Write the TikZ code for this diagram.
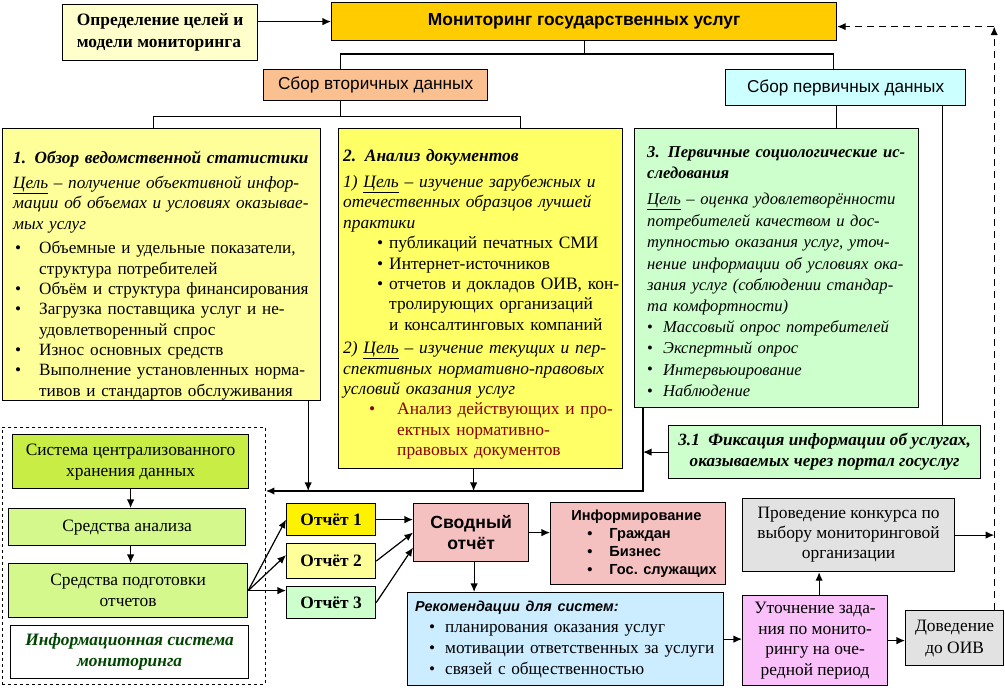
\documentclass[tikz,border=0pt]{standalone}
\usepackage{fontspec}
\setmainfont{Liberation Serif}
\setsansfont{Liberation Sans}
\usetikzlibrary{arrows.meta,positioning}
\usepackage{xcolor}
\definecolor{goldbox}{RGB}{255,204,0}
\definecolor{creamy}{RGB}{255,255,204}
\definecolor{peach}{RGB}{250,192,144}
\definecolor{palecyan}{RGB}{204,255,255}
\definecolor{lightyel}{RGB}{255,255,153}
\definecolor{yel}{RGB}{255,255,102}
\definecolor{palegreen}{RGB}{204,255,204}
\definecolor{limeA}{RGB}{200,238,70}
\definecolor{limeB}{RGB}{212,248,140}
\definecolor{rosy}{RGB}{245,192,192}
\definecolor{skyblue}{RGB}{204,236,255}
\definecolor{orchid}{RGB}{250,192,250}
\definecolor{greybox}{RGB}{226,226,226}
\definecolor{darkred}{RGB}{140,0,0}
\definecolor{darkgreen}{RGB}{0,70,0}
\newcommand{\bul}[2]{\hspace*{#1}\makebox[#2][l]{\textbullet}}
\newcommand{\cont}[1]{\hspace*{#1}}

\begin{document}
\begin{tikzpicture}[x=1pt, y=-1pt,
    box/.style={draw, line width=1.2pt, anchor=north west, inner sep=0pt, align=center,
        font=\fontsize{17.4}{21}\selectfont},
    note/.style={anchor=base west, inner sep=0pt, align=left},
    sansbox/.style={box, font=\sffamily\fontsize{17.2}{20}\selectfont},
    repbox/.style={box, minimum width=89, font=\bfseries\fontsize{17.4}{21}\selectfont},
    conn/.style={line width=1.2pt},
    arrow/.style={-{Latex[length=3mm, width=2.6mm]}, line width=1.2pt},
    dasharrow/.style={arrow, dash pattern=on 7pt off 5pt},
]
    \useasboundingbox (0,0) rectangle (1005,688);

    % top row
    \node[box, fill=creamy, minimum width=195, minimum height=56, align=left, inner xsep=11pt,
        font=\bfseries\fontsize{17.4}{22}\selectfont] (goal) at (62,4)
        {Определение целей и\\модели мониторинга};
    \node[sansbox, fill=goldbox, minimum width=505, minimum height=38,
        font=\sffamily\bfseries\fontsize{17.4}{20}\selectfont] (mon) at (331,2) {Мониторинг государственных услуг};
    \node[sansbox, fill=peach, minimum width=224, minimum height=31] (sec) at (263,69) {Сбор вторичных данных};
    \node[sansbox, fill=palecyan, minimum width=240, minimum height=36] (pri) at (725,69) {Сбор первичных данных};

    % three methods
    \node[box, fill=lightyel, minimum width=318, minimum height=272] (stat) at (2,128) {};
    \node[note, text width=310, font=\fontsize{17.2}{20.4}\selectfont] (stattext)
        at ([shift={(11,35)}]stat.north west) {%
        \textbf{\textit{1. Обзор ведомственной статистики}}\\[5pt]
        \textit{\underline{Цель} – получение объективной инфор-}\\
        \textit{мации об объемах и условиях оказывае-}\\
        \textit{мых услуг}\\[4pt]
        \bul{2pt}{24pt}Объемные и удельные показатели,\\
        \cont{26pt}структура потребителей\\
        \bul{2pt}{24pt}Объём и структура финансирования\\
        \bul{2pt}{24pt}Загрузка поставщика услуг и не-\\
        \cont{26pt}удовлетворенный спрос\\
        \bul{2pt}{24pt}Износ основных средств\\
        \bul{2pt}{24pt}Выполнение установленных норма-\\
        \cont{26pt}тивов и стандартов обслуживания};

    \node[box, fill=yel, minimum width=284, minimum height=340] (docs) at (338,128) {};
    \node[note, text width=300, font=\fontsize{17.4}{20.4}\selectfont] (docstext)
        at ([shift={(5,33)}]docs.north west) {%
        \textbf{\textit{2. Анализ документов}}\\[6pt]
        \textit{1) \underline{Цель} – изучение зарубежных и}\\
        \textit{отечественных образцов лучшей}\\
        \textit{практики}\\
        \bul{34pt}{12pt}публикаций печатных СМИ\\
        \bul{34pt}{12pt}Интернет-источников\\
        \bul{34pt}{12pt}отчетов и докладов ОИВ, кон-\\
        \cont{46pt}тролирующих организаций\\
        \cont{46pt}и консалтинговых компаний\\[3pt]
        \textit{2) \underline{Цель} – изучение текущих и пер-}\\
        \textit{спективных нормативно-правовых}\\
        \textit{условий оказания услуг}\\
        {\color{darkred}\bul{26pt}{28pt}Анализ действующих и про-}\\
        {\color{darkred}\cont{54pt}ектных нормативно-}\\
        {\color{darkred}\cont{54pt}правовых документов}};

    \node[box, fill=palegreen, minimum width=284, minimum height=279] (soc) at (634,128) {};
    \node[note, text width=300, font=\fontsize{16.6}{21.4}\selectfont] (soctext)
        at ([shift={(13,29)}]soc.north west) {%
        \textbf{\textit{3. Первичные социологические ис-}}\\
        \textbf{\textit{следования}}\\[5pt]
        \textit{\underline{Цель} – оценка удовлетворённости}\\
        \textit{потребителей качеством и дос-}\\
        \textit{тупностью оказания услуг, уточ-}\\
        \textit{нение информации об условиях ока-}\\
        \textit{зания услуг (соблюдении стандар-}\\
        \textit{та комфортности)}\\[-1pt]
        \bul{0pt}{16pt}\textit{Массовый опрос потребителей}\\
        \bul{0pt}{16pt}\textit{Экспертный опрос}\\
        \bul{0pt}{16pt}\textit{Интервьюирование}\\
        \bul{0pt}{16pt}\textit{Наблюдение}};

    \node[box, fill=palegreen, minimum width=312, minimum height=53,
        font=\bfseries\itshape\fontsize{17.2}{21}\selectfont] (portal) at (668,425)
        {3.1\ \ Фиксация информации об услугах,\\оказываемых через портал госуслуг};

    % information system
    \node[box, dashed, line width=0.9pt, minimum width=263, minimum height=257] (isframe) at (2,427) {};
    \node[box, fill=limeA, minimum width=236, minimum height=54] (store) at (12,434)
        {Система централизованного\\хранения данных};
    \node[box, fill=limeB, minimum width=237, minimum height=37] (tools) at (8,508) {Средства анализа};
    \node[box, fill=limeB, minimum width=239, minimum height=54] (prep) at (8,563)
        {Средства подготовки\\отчетов};
    \node[box, fill=white, minimum width=238, minimum height=53, text=darkgreen,
        font=\bfseries\itshape\fontsize{17.4}{21}\selectfont] (islabel) at (10,625)
        {Информационная система\\мониторинга};

    % reports
    \node[repbox, fill=yellow, minimum height=32] (rep1) at (286,503) {Отчёт 1};
    \node[repbox, fill=lightyel, minimum height=35] (rep2) at (286,543) {Отчёт 2};
    \node[repbox, fill=palegreen, minimum height=32] (rep3) at (286,586) {Отчёт 3};
    \node[sansbox, fill=rosy, minimum width=115, minimum height=58,
        font=\sffamily\bfseries\fontsize{17.6}{21}\selectfont] (summary) at (413,503) {Сводный\\отчёт};
    \node[sansbox, fill=rosy, minimum width=175, minimum height=82, align=left,
        font=\sffamily\bfseries\fontsize{14.6}{17.8}\selectfont] (inform) at (550,502)
        {\hspace*{12pt}Информирование\\
        \bul{28pt}{22pt}Граждан\\
        \bul{28pt}{22pt}Бизнес\\
        \bul{28pt}{22pt}Гос. служащих};
    \node[box, fill=skyblue, minimum width=316, minimum height=93] (recom) at (407,592) {};
    \node[note, text width=310, font=\fontsize{17.2}{21}\selectfont] (recomtext)
        at ([shift={(8,19)}]recom.north west)
        {{\sffamily\bfseries\itshape\fontsize{14.4}{20}\selectfont Рекомендации для систем:}\\
        \bul{14pt}{16pt}планирования оказания услуг\\
        \bul{14pt}{16pt}мотивации ответственных за услуги\\
        \bul{14pt}{16pt}связей с общественностью};
    \node[box, fill=orchid, minimum width=145, minimum height=90, font=\fontsize{17.4}{20.5}\selectfont]
        (refine) at (742,595) {Уточнение зада-\\ния по монито-\\рингу на оче-\\редной период};
    \node[box, fill=greybox, minimum width=212, minimum height=73, font=\fontsize{17.4}{20}\selectfont]
        (contest) at (742,498) {Проведение конкурса по\\выбору мониторинговой\\организации};
    \node[box, fill=greybox, minimum width=98, minimum height=55, font=\fontsize{17.4}{22}\selectfont]
        (oiv) at (905,610) {Доведение\\до ОИВ};

    % tree from the top box
    \draw[arrow] (goal.east |- mon.west) -- (mon.west);
    \draw[conn] ([xshift=-35pt]sec.north) -- ++(0,-15) coordinate (spine) -| ([xshift=-12pt]pri.north);
    \draw[conn] (mon.south) -- (mon.south |- spine);
    \draw[conn] ([xshift=-35pt]sec.south) -- ++(0,15) coordinate (spine2);
    \draw[conn] ([xshift=-8pt]stat.north) |- (spine2) -| ([xshift=40pt]docs.north);
    \draw[conn] ([xshift=-9pt]pri.south) -- ([xshift=-9pt]pri.south |- soc.north);
    \draw[conn] ([xshift=97pt]pri.south) -- ([xshift=97pt]pri.south |- portal.north);

    % collection bus
    \coordinate (bus) at (0,491);
    \coordinate (socdrop) at ([xshift=9pt]soc.south west);
    \draw[arrow] (socdrop) |- (isframe.east |- bus);
    \draw[arrow] ([xshift=-13pt]stat.south east) -- ([xshift=-13pt]stat.south east |- bus);
    \draw[arrow] ([xshift=-7pt]docs.south) -- ([xshift=-7pt]docs.south |- bus);
    \draw[arrow] (portal.west) -- (portal.west -| socdrop);

    % information system
    \draw[arrow] (store.south) -- (store.south |- tools.north);
    \draw[arrow] (store.south |- tools.south) -- (store.south |- prep.north);
    \draw[arrow] (prep.east) -- (rep1.west);
    \draw[arrow] (prep.east) -- ([yshift=6pt]rep2.west);
    \draw[arrow] (prep.east) -- (prep.east -| rep3.west);

    % reports to summary
    \draw[arrow] (rep1.east) -- (rep1.east -| summary.west);
    \draw[arrow] (rep2.east) -- (summary.west);
    \draw[arrow] (rep3.east) -- ([yshift=-15pt]summary.west);
    \draw[arrow] (summary.east) -- (summary.east -| inform.west);
    \draw[arrow] ([xshift=3pt]summary.south) -- ([xshift=3pt]summary.south |- recom.north);
    \draw[arrow] (recom.east) -- (recom.east -| refine.west);
    \draw[arrow] ([xshift=4pt]refine.north) -- ([xshift=4pt]refine.north |- contest.south);
    \draw[arrow] (refine.east) -- (refine.east -| oiv.west);

    % feedback loop
    \coordinate (fb) at ([xshift=-10pt]oiv.north east);
    \draw[arrow] (contest.east) -- (contest.east -| fb);
    \draw[dasharrow] (fb) -- ([yshift=-5pt]fb |- mon.east) coordinate (fbtop);
    \draw[dasharrow] (fbtop) -- (fbtop -| mon.east);
\end{tikzpicture}
\end{document}
